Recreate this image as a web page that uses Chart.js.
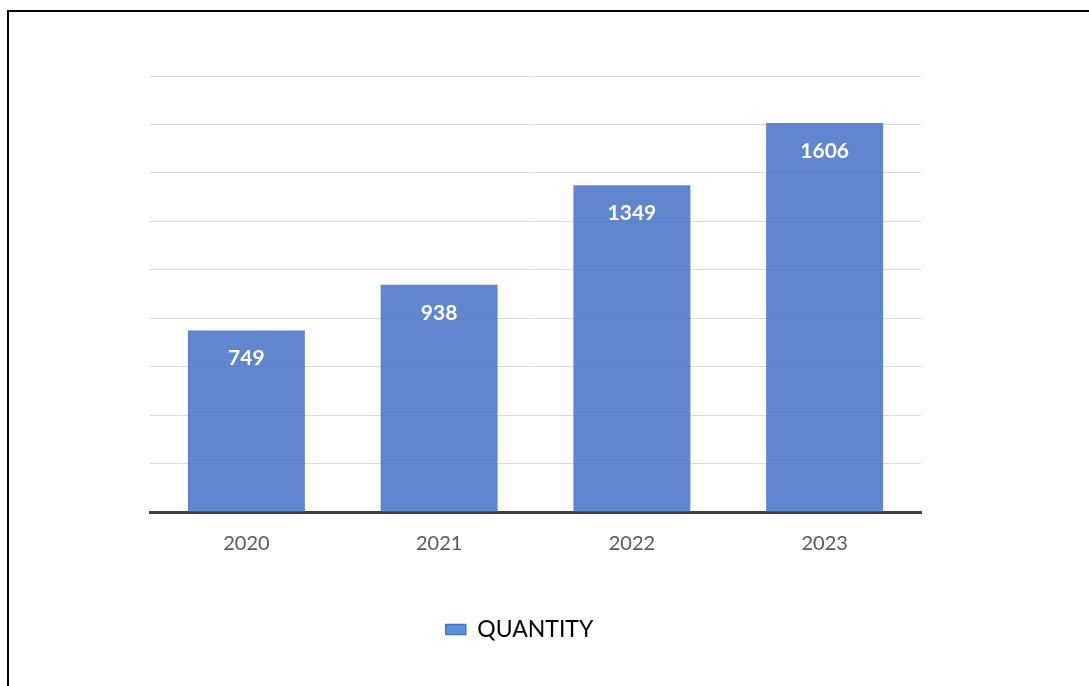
<!DOCTYPE html>
<html>
<head>
<meta charset="utf-8">
<script src="https://cdn.jsdelivr.net/npm/chart.js@4"></script>
<style>
    body { margin: 0; background: #fff; overflow: hidden; }
    .frame {
        position: absolute; left: 7px; top: 10px;
        width: 1100px; height: 700px;
        border-left: 2px solid #000; border-top: 2px solid #000;
    }
    #wrap { position: absolute; left: 0; top: 0; width: 1089px; height: 686px; }
</style>
</head>
<body>
<div class="frame"></div>
<div id="wrap"><canvas id="qtyChart"></canvas></div>
<script>
const years = ['2020', '2021', '2022', '2023'];
const quantities = [749, 938, 1349, 1606];
const seriesName = 'QUANTITY';

// white value labels just under the top of each bar
const barValueLabels = {
    id: 'barValueLabels',
    afterDatasetsDraw(chart) {
        const ctx = chart.ctx;
        const meta = chart.getDatasetMeta(0);
        ctx.save();
        ctx.fillStyle = '#fff';
        ctx.font = 'bold 21px Lato';
        ctx.textAlign = 'center';
        ctx.textBaseline = 'middle';
        meta.data.forEach((bar, i) => {
            ctx.fillText(String(quantities[i]), bar.x, bar.y + 28);
        });
        ctx.restore();
    }
};

function createQuantityChart() {
    const ctx = document.getElementById('qtyChart').getContext('2d');
    return new Chart(ctx, {
        type: 'bar',
        data: {
            labels: years,
            datasets: [{
                label: seriesName,
                data: quantities,
                backgroundColor: 'rgba(68, 114, 196, 0.85)',
                borderWidth: 0,
                categoryPercentage: 1,
                barPercentage: 0.607
            }]
        },
        options: {
            responsive: true,
            maintainAspectRatio: false,
            animation: false,
            layout: {
                padding: { left: 50, right: 100, top: 76, bottom: 35 }
            },
            scales: {
                x: {
                    z: 1,
                    grid: { display: false, drawTicks: false },
                    border: { display: true, color: '#404040', width: 3 },
                    ticks: {
                        color: '#595959',
                        padding: 20,
                        font: { family: 'Lato', size: 20 }
                    },
                    afterFit(scale) { scale.height = 90; }
                },
                y: {
                    min: 0,
                    max: 1800,
                    ticks: { display: false, stepSize: 200 },
                    grid: { color: '#d9d9d9', lineWidth: 1, drawTicks: false },
                    border: { display: false },
                    afterFit(scale) { scale.width = 100; }
                },
                // empty spacer on the right so the legend sits left of the plot centre
                spacer: {
                    type: 'linear',
                    axis: 'y',
                    position: 'right',
                    ticks: { display: false },
                    grid: { display: false, drawTicks: false },
                    border: { display: false },
                    afterFit(scale) { scale.width = 68; }
                }
            },
            plugins: {
                tooltip: { enabled: false },
                legend: {
                    position: 'bottom',
                    labels: {
                        color: '#000',
                        boxWidth: 20,
                        boxHeight: 10,
                        padding: 16,
                        font: { family: 'Lato', size: 23 },
                        generateLabels(chart) {
                            const items = Chart.defaults.plugins.legend.labels.generateLabels(chart);
                            items.forEach(it => {
                                it.fillStyle = 'rgb(91, 148, 214)';
                                it.strokeStyle = 'rgb(68, 114, 196)';
                                it.lineWidth = 1.5;
                            });
                            return items;
                        }
                    }
                }
            }
        },
        plugins: [barValueLabels]
    });
}

createQuantityChart();
</script>
</body>
</html>
